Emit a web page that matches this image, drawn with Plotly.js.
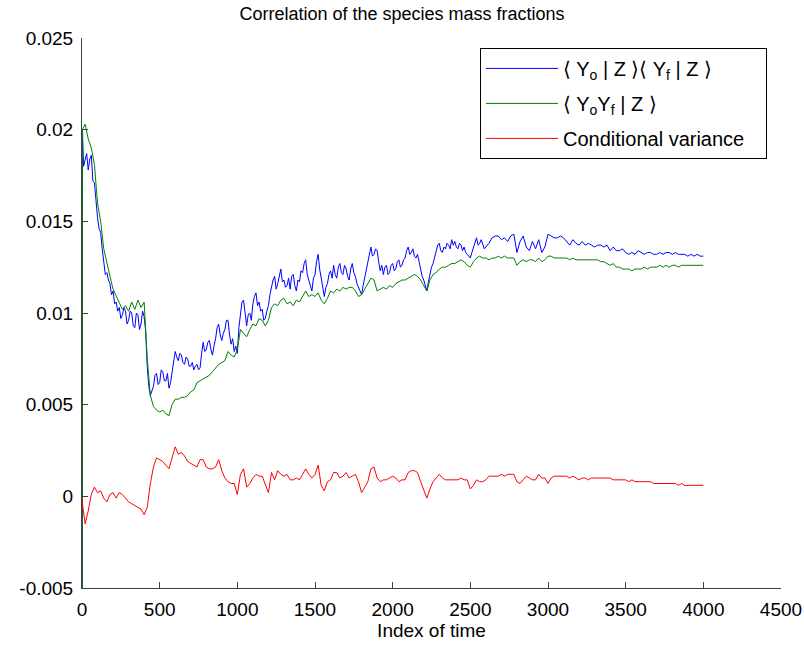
<!DOCTYPE html>
<html>
<head>
<meta charset="utf-8">
<script src="https://cdn.plot.ly/plotly-3.0.1.min.js"></script>
<style>
  html, body { margin: 0; padding: 0; background: #fff; }
  #chart { width: 804px; height: 645px; }
</style>
</head>
<body>
<div id="chart"></div>
<script>
// Time index sampling: first two samples at 0 and 3, then a fine step
// (blue series only, up to 2600) and a coarse step up to 4000.
const startIndex = [0, 3];
const fineStep = 10, fineEnd = 2600;
const coarseStep = 20, lastIndex = 4000;

// <Yo|Z><Yf|Z>  : x = 0, 3, then 10..2600 every 10, then 2620..4000 every 20
const productOfMeans = [
  -0.05, 0.0200,
  0.0180, 0.0183, 0.0187, 0.0178, 0.0184, 0.0186, 0.0172, 0.0171, 0.0160, 0.0152, 0.0146, 0.0144, 0.0135, 0.0129, 0.0121, 0.0122, 0.0118, 0.0116, 0.0110,
  0.0112, 0.0105, 0.0106, 0.0101, 0.0103, 0.0097, 0.0099, 0.0103, 0.0101, 0.0094, 0.0096, 0.0101, 0.0100, 0.0093, 0.0092, 0.0100, 0.0099, 0.0091, 0.0094, 0.0101,
  0.0098, 0.0090, 0.0071, 0.0060, 0.0055, 0.0058, 0.0060, 0.0066, 0.0067, 0.0061, 0.0062, 0.0069, 0.0068, 0.0063, 0.0063, 0.0067, 0.0059, 0.0062, 0.0068, 0.0074,
  0.0079, 0.0076, 0.0074, 0.0078, 0.0077, 0.0073, 0.0072, 0.0076, 0.0075, 0.0071, 0.0071, 0.0073, 0.0069, 0.0071, 0.0072, 0.0069, 0.0070, 0.0078, 0.0084, 0.0079,
  0.0080, 0.0084, 0.0085, 0.0080, 0.0077, 0.0082, 0.0086, 0.0092, 0.0094, 0.0088, 0.0085, 0.0089, 0.0091, 0.0096, 0.0096, 0.0088, 0.0083, 0.0086, 0.0079, 0.0082,
  0.0078, 0.0092, 0.0101, 0.0106, 0.0107, 0.0098, 0.0093, 0.0099, 0.0100, 0.0096, 0.0105, 0.0109, 0.0111, 0.0104, 0.0106, 0.0101, 0.0102, 0.0096, 0.0097, 0.0101,
  0.0104, 0.0110, 0.0114, 0.0118, 0.0120, 0.0113, 0.0116, 0.0121, 0.0124, 0.0117, 0.0118, 0.0114, 0.0115, 0.0119, 0.0113, 0.0120, 0.0121, 0.0115, 0.0112, 0.0118,
  0.0117, 0.0123, 0.0122, 0.0127, 0.0129, 0.0121, 0.0118, 0.0114, 0.0112, 0.0119, 0.0121, 0.0128, 0.0132, 0.0124, 0.0119, 0.0113, 0.0109, 0.0114, 0.0116, 0.0121,
  0.0123, 0.0119, 0.0126, 0.0121, 0.0119, 0.0125, 0.0127, 0.0122, 0.0121, 0.0126, 0.0124, 0.0120, 0.0118, 0.0124, 0.0127, 0.0122, 0.0120, 0.0116, 0.0114, 0.0112,
  0.0110, 0.0115, 0.0119, 0.0124, 0.0127, 0.0131, 0.0136, 0.0131, 0.0132, 0.0135, 0.0134, 0.0128, 0.0123, 0.0126, 0.0121, 0.0125, 0.0126, 0.0121, 0.0122, 0.0126,
  0.0127, 0.0123, 0.0124, 0.0128, 0.0129, 0.0125, 0.0126, 0.0129, 0.0130, 0.0134, 0.0136, 0.0132, 0.0133, 0.0135, 0.0131, 0.0130, 0.0132, 0.0128, 0.0124, 0.0120,
  0.0118, 0.0115, 0.0112, 0.0117, 0.0121, 0.0125, 0.0127, 0.0131, 0.0134, 0.0137, 0.0138, 0.0134, 0.0133, 0.0136, 0.0135, 0.0138, 0.0137, 0.0135, 0.0140, 0.0137,
  0.0139, 0.0136, 0.0135, 0.0138, 0.0137, 0.0134, 0.0136, 0.0133, 0.0132, 0.0131, 0.0130, 0.0133, 0.0136, 0.0139, 0.0141, 0.0137, 0.0138, 0.0140, 0.0137, 0.0135,
  0.0136,
  0.0138, 0.0141, 0.0142, 0.0142, 0.0140, 0.0141, 0.0139, 0.0142, 0.0143,
  0.0133, 0.0139, 0.0142, 0.0136, 0.0134, 0.0139, 0.0135, 0.0140, 0.0133, 0.0136,
  0.0143, 0.0142, 0.0141, 0.0141, 0.0142, 0.0141, 0.0139, 0.0137, 0.0140, 0.0138,
  0.0137, 0.0139, 0.0137, 0.0138, 0.0137, 0.0136, 0.0137, 0.0137, 0.0136, 0.0137,
  0.0134, 0.0136, 0.0134, 0.0134, 0.0135, 0.0133, 0.0132, 0.0133, 0.0132, 0.0134,
  0.0133, 0.0132, 0.0133, 0.0133, 0.0132, 0.0132, 0.0133, 0.0132, 0.0133, 0.0133,
  0.0132, 0.0133, 0.0132, 0.0132, 0.0132, 0.0131, 0.0132, 0.0131, 0.0132, 0.0131,
  0.0131
];

// <Yo Yf|Z>  : x = 0, 3, then 20..4000 every 20
const meanOfProduct = [
  -0.05, 0.0200,
  0.0203, 0.0195, 0.0190, 0.0181, 0.0160, 0.0150, 0.0135, 0.0127, 0.0120,
  0.0113, 0.0109, 0.0105, 0.0102, 0.0104, 0.0101, 0.0106, 0.0102, 0.0107, 0.0103,
  0.0106, 0.0075, 0.0055, 0.0049, 0.0047, 0.0046, 0.0047, 0.0045, 0.0044, 0.0050,
  0.0053, 0.0053, 0.0054, 0.0054, 0.0055, 0.0057, 0.0058, 0.0062, 0.0063, 0.0064,
  0.0065, 0.0066, 0.0068, 0.0070, 0.0072, 0.0073, 0.0074, 0.0079, 0.0077, 0.0076,
  0.0080, 0.0091, 0.0089, 0.0087, 0.0091, 0.0094, 0.0093, 0.0097, 0.0096, 0.0093,
  0.0096, 0.0103, 0.0105, 0.0104, 0.0107, 0.0108, 0.0105, 0.0106, 0.0104, 0.0107,
  0.0106, 0.0109, 0.0112, 0.0109, 0.0110, 0.0109, 0.0111, 0.0107, 0.0105, 0.0108,
  0.0112, 0.0111, 0.0113, 0.0112, 0.0114, 0.0113, 0.0114, 0.0114, 0.0112, 0.0109,
  0.0110, 0.0113, 0.0116, 0.0119, 0.0118, 0.0112, 0.0113, 0.0114, 0.0113, 0.0115,
  0.0114, 0.0116, 0.0117, 0.0118, 0.0118, 0.0119, 0.0120, 0.0121, 0.0120, 0.0118,
  0.0115, 0.0112, 0.0118, 0.0121, 0.0122, 0.0124, 0.0125, 0.0125, 0.0126, 0.0127,
  0.0127, 0.0128, 0.0129, 0.0128, 0.0126, 0.0125, 0.0128, 0.0130, 0.0131, 0.0130,
  0.0130, 0.0129, 0.0130, 0.0130, 0.0131, 0.0130, 0.0131, 0.0130, 0.0130, 0.0130,
  0.0126, 0.0128, 0.0129, 0.0128, 0.0129, 0.0129, 0.0128, 0.0130, 0.0128, 0.0129,
  0.0131, 0.0131, 0.0130, 0.0130, 0.0130, 0.0130, 0.0130, 0.0129, 0.0130, 0.0129,
  0.0129, 0.0129, 0.0129, 0.0129, 0.0129, 0.0129, 0.0129, 0.0128, 0.0128, 0.0127,
  0.0126, 0.0127, 0.0125, 0.0125, 0.0124, 0.0124, 0.0124, 0.0123, 0.0124, 0.0124,
  0.0124, 0.0125, 0.0124, 0.0125, 0.0125, 0.0125, 0.0126, 0.0125, 0.0126, 0.0125,
  0.0126, 0.0126, 0.0125, 0.0126, 0.0126, 0.0126, 0.0126, 0.0126, 0.0126, 0.0126,
  0.0126
];

// Conditional variance  : x = 0, 3, then 20..4000 every 20
const conditionalVariance = [
  0.0000, -0.0004,
  -0.0015, -0.0008, 0.0001, 0.0005, 0.0002, 0.0003, -0.0001, -0.0003, 0.0001,
  0.0002, -0.0001, 0.0002, 0.0001, -0.0001, -0.0003, -0.0004, -0.0005, -0.0006, -0.0007,
  -0.0010, -0.0006, 0.0007, 0.0016, 0.0021, 0.0020, 0.0019, 0.0017, 0.0015, 0.0021,
  0.0027, 0.0023, 0.0024, 0.0022, 0.0019, 0.0018, 0.0017, 0.0016, 0.0020, 0.0020,
  0.0016, 0.0015, 0.0015, 0.0016, 0.0020, 0.0014, 0.0010, 0.0008, 0.0007, 0.0007,
  0.0001, 0.0012, 0.0015, 0.0005, 0.0007, 0.0010, 0.0012, 0.0011, 0.0011, 0.0007,
  0.0002, 0.0013, 0.0009, 0.0014, 0.0012, 0.0011, 0.0012, 0.0009, 0.0009, 0.0010,
  0.0009, 0.0012, 0.0015, 0.0012, 0.0010, 0.0012, 0.0017, 0.0006, 0.0003, 0.0008,
  0.0009, 0.0013, 0.0013, 0.0010, 0.0011, 0.0013, 0.0010, 0.0011, 0.0012, 0.0008,
  0.0002, 0.0005, 0.0008, 0.0015, 0.0016, 0.0010, 0.0008, 0.0009, 0.0009, 0.0010,
  0.0011, 0.0010, 0.0008, 0.0009, 0.0009, 0.0013, 0.0014, 0.0014, 0.0013, 0.0008,
  0.0003, -0.0001, 0.0004, 0.0008, 0.0010, 0.0012, 0.0010, 0.0009, 0.0009, 0.0009,
  0.0009, 0.0009, 0.0010, 0.0009, 0.0009, 0.0004, 0.0006, 0.0009, 0.0008, 0.0008,
  0.0009, 0.0011, 0.0011, 0.0011, 0.0011, 0.0012, 0.0011, 0.0012, 0.0012, 0.0012,
  0.0008, 0.0007, 0.0009, 0.0011, 0.0010, 0.0009, 0.0009, 0.0012, 0.0010, 0.0010,
  0.0007, 0.0010, 0.0011, 0.0011, 0.0011, 0.0011, 0.0011, 0.0010, 0.0011, 0.0010,
  0.0009, 0.0010, 0.0010, 0.0009, 0.0010, 0.0010, 0.0010, 0.0010, 0.0010, 0.0010,
  0.0010, 0.0009, 0.0009, 0.0009, 0.0009, 0.0009, 0.0008, 0.0009, 0.0008, 0.0008,
  0.0008, 0.0008, 0.0008, 0.0008, 0.0007, 0.0007, 0.0007, 0.0007, 0.0007, 0.0007,
  0.0007, 0.0007, 0.0006, 0.0007, 0.0006, 0.0006, 0.0006, 0.0006, 0.0006, 0.0006,
  0.0006
];

const seriesNames = [
  '\u27E8 Y<sub>o</sub> | Z \u27E9\u27E8 Y<sub>f</sub> | Z \u27E9',
  '\u27E8 Y<sub>o</sub>Y<sub>f</sub> | Z \u27E9',
  'Conditional variance\u00A0\u00A0\u00A0'
];
const seriesColors = ['#0000FF', '#008000', '#FF0000'];

const xTickVals = [0, 500, 1000, 1500, 2000, 2500, 3000, 3500, 4000, 4500];
const yTickVals = [-0.005, 0, 0.005, 0.01, 0.015, 0.02, 0.025];
const yTickText = ['-0.005', '0', '0.005', '0.01', '0.015', '0.02', '0.025'];

// Build the time-index arrays
const fineIndex = startIndex.slice();
for (let t = fineStep; t <= fineEnd; t += fineStep) fineIndex.push(t);
for (let t = fineEnd + coarseStep; t <= lastIndex; t += coarseStep) fineIndex.push(t);
const coarseIndex = startIndex.slice();
for (let t = coarseStep; t <= lastIndex; t += coarseStep) coarseIndex.push(t);

const font = 'Liberation Sans, Arial, Helvetica, sans-serif';
const allSeries = [
  { x: fineIndex, y: productOfMeans },
  { x: coarseIndex, y: meanOfProduct },
  { x: coarseIndex, y: conditionalVariance }
];

const traces = allSeries.map((s, k) => ({
  type: 'scatter',
  mode: 'lines',
  x: s.x,
  y: s.y,
  name: seriesNames[k],
  legendgroup: 'g' + k,
  line: { color: seriesColors[k], width: 1 },
  hoverinfo: 'skip'
}));

const axisCommon = {
  showline: true,
  linecolor: '#404040',
  linewidth: 1,
  ticks: 'inside',
  ticklen: 6,
  tickcolor: '#404040',
  showgrid: false,
  zeroline: false,
  mirror: false,
  tickfont: { family: font, size: 19, color: '#000' },
  ticklabelstandoff: 4
};

const layout = {
  width: 804,
  height: 645,
  margin: { l: 82, r: 23, t: 38, b: 57 },
  paper_bgcolor: '#fff',
  plot_bgcolor: '#fff',
  title: {
    text: 'Correlation of the species mass fractions',
    font: { family: font, size: 18, color: '#000' },
    x: 0.5, xref: 'container', xanchor: 'center',
    y: 1 - 14 / 645, yref: 'container', yanchor: 'middle'
  },
  xaxis: Object.assign({}, axisCommon, {
    range: [0, 4500],
    tickvals: xTickVals,
    title: { text: 'Index of time', font: { family: font, size: 19, color: '#000' }, standoff: 2 }
  }),
  yaxis: Object.assign({}, axisCommon, {
    range: [-0.005, 0.025],
    tickvals: yTickVals,
    ticktext: yTickText
  }),
  showlegend: true,
  legend: {
    x: 0.98, xanchor: 'right',
    y: 0.982, yanchor: 'top',
    bgcolor: '#fff',
    bordercolor: '#000',
    borderwidth: 1,
    font: { family: font, size: 20, color: '#000' },
    itemwidth: 72,
    traceorder: 'grouped',
    tracegroupgap: 6
  }
};

Plotly.newPlot('chart', traces, layout, { staticPlot: true, displayModeBar: false });
</script>
</body>
</html>
